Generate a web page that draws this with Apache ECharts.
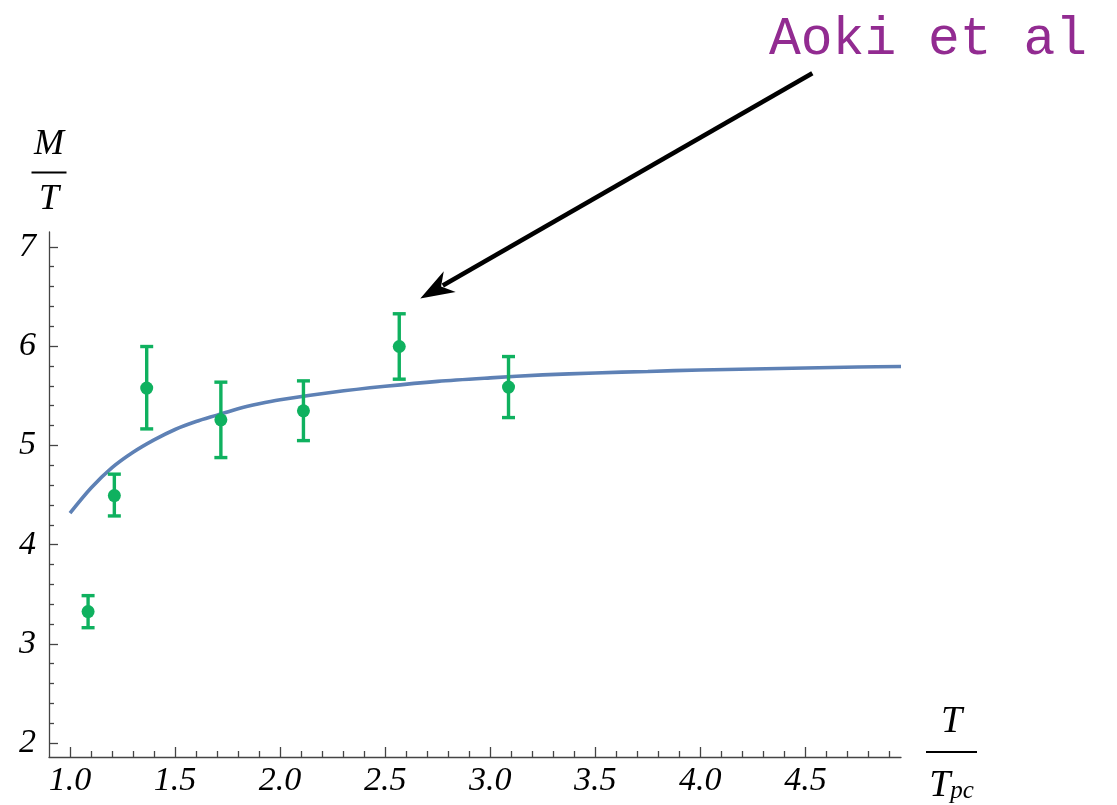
<!DOCTYPE html>
<html><head><meta charset="utf-8">
<script src="https://cdn.jsdelivr.net/npm/echarts@6/dist/echarts.min.js"></script>
<style>html,body{margin:0;padding:0;background:#fff}#c{width:1117px;height:805px}</style>
</head><body><div id="c"></div>
<script>
// Data points (T/Tpc, M/T) with error bars
const pointX  = [1.086, 1.211, 1.365, 1.718, 2.111, 2.567, 3.087];
const pointY  = [3.325, 4.494, 5.577, 5.257, 5.348, 5.996, 5.587];
const errLow  = [3.163, 4.289, 5.166, 4.877, 5.048, 5.667, 5.280];
const errHigh = [3.486, 4.710, 5.996, 5.637, 5.650, 6.326, 5.895];
// Fitted curve
const curveX = [1.0, 1.1, 1.2, 1.3, 1.4, 1.5, 1.6, 1.7, 1.8, 1.9, 2.0, 2.25, 2.5, 2.75, 3.0, 3.25, 3.5, 3.75, 4.0, 4.25, 4.5, 4.75, 4.955];
const curveY = [4.317, 4.57, 4.775, 4.93, 5.055, 5.16, 5.24, 5.305, 5.37, 5.42, 5.46, 5.535, 5.595, 5.645, 5.68, 5.71, 5.73, 5.745, 5.76, 5.77, 5.78, 5.79, 5.795];
// Ticks
const xMajor = [1.0, 1.5, 2.0, 2.5, 3.0, 3.5, 4.0, 4.5];
const xMinor = [1.1,1.2,1.3,1.4,1.6,1.7,1.8,1.9,2.1,2.2,2.3,2.4,2.6,2.7,2.8,2.9,3.1,3.2,3.3,3.4,3.6,3.7,3.8,3.9,4.1,4.2,4.3,4.4,4.6,4.7,4.8,4.9];
const yMajor = [2, 3, 4, 5, 6, 7];
const yMinor = [2.2,2.4,2.6,2.8,3.2,3.4,3.6,3.8,4.2,4.4,4.6,4.8,5.2,5.4,5.6,5.8,6.2,6.4,6.6,6.8];
// Annotation
const annotationText = 'Aoki et al';
const arrowFrom = [4.533, 8.75];
const arrowTo = [2.667, 6.48];

const green = '#0fb15f';
const blue = '#5e81b5';
const axisColor = '#444';
const serif = "'Liberation Serif', 'DejaVu Serif', serif";

const X = [0.9, 4.955], Y = [1.86, 7.15];
const gridBox = {left: 49, right: 216, top: 232, bottom: 48, containLabel: false, outerBoundsMode: 'none'};

const labelStyle = {fontFamily: serif, fontStyle: 'italic', fontSize: 34, color: '#000'};
const fracN = (fs, lh) => ({fontFamily: serif, fontStyle: 'italic', fontSize: fs, lineHeight: lh, color: '#000', align: 'center'});

const chart = echarts.init(document.getElementById('c'), null, {renderer: 'canvas'});
const option = {
  animation: false,
  backgroundColor: '#fff',
  grid: [Object.assign({}, gridBox), Object.assign({}, gridBox)],
  xAxis: [{
    type: 'value', gridIndex: 0, min: X[0], max: X[1],
    axisLine: {show: true, onZero: false, lineStyle: {color: axisColor, width: 1.3}},
    axisTick: {show: true, inside: true, length: 10, customValues: xMajor, lineStyle: {color: axisColor, width: 1.3}},
    axisLabel: Object.assign({customValues: xMajor, margin: 7, formatter: v => v.toFixed(1)}, labelStyle),
    splitLine: {show: false},
    name: '{n|T}\n{b|}\n{d|T}{s|pc}',
    nameLocation: 'end', nameGap: 25,
    nameTextStyle: {rich: {
      n: fracN(38, 44),
      b: {width: 51, height: 2, lineHeight: 15, backgroundColor: '#000', align: 'center'},
      d: fracN(38, 54),
      s: {fontFamily: serif, fontStyle: 'italic', fontSize: 25, lineHeight: 54, color: '#000', align: 'center', padding: [9, 0, 0, 0]}
    }}
  }, {
    type: 'value', gridIndex: 1, min: X[0], max: X[1],
    axisLine: {show: false, onZero: false},
    axisTick: {show: true, inside: true, length: 6, customValues: xMinor, lineStyle: {color: axisColor, width: 1.3}},
    axisLabel: {show: false}, splitLine: {show: false}
  }],
  yAxis: [{
    type: 'value', gridIndex: 0, min: Y[0], max: Y[1],
    axisLine: {show: true, onZero: false, lineStyle: {color: axisColor, width: 1.3}},
    axisTick: {show: true, inside: true, length: 9, customValues: yMajor, lineStyle: {color: axisColor, width: 1.3}},
    axisLabel: Object.assign({customValues: yMajor, margin: 13, formatter: v => String(v)}, labelStyle),
    splitLine: {show: false},
    name: '{n|M}\n{b|}\n{n|T}',
    nameLocation: 'end', nameGap: 12,
    nameTextStyle: {rich: {
      n: fracN(36, 40),
      b: {width: 35, height: 2, lineHeight: 15, backgroundColor: '#000', align: 'center'}
    }}
  }, {
    type: 'value', gridIndex: 1, min: Y[0], max: Y[1],
    axisLine: {show: false, onZero: false},
    axisTick: {show: true, inside: true, length: 5, customValues: yMinor, lineStyle: {color: axisColor, width: 1.3}},
    axisLabel: {show: false}, splitLine: {show: false}
  }],
  series: [{
    type: 'line', xAxisIndex: 0, yAxisIndex: 0,
    data: curveX.map((x, i) => [x, curveY[i]]),
    smooth: 0.3, showSymbol: false, symbol: 'none',
    lineStyle: {color: blue, width: 3.6}, z: 2
  }, {
    type: 'custom', xAxisIndex: 0, yAxisIndex: 0,
    data: pointX.map((x, i) => [x, errLow[i], errHigh[i]]),
    renderItem: function (params, api) {
      const x = api.value(0);
      const p1 = api.coord([x, api.value(1)]);
      const p2 = api.coord([x, api.value(2)]);
      const w = 6.5;
      const st = {stroke: green, lineWidth: 3.4};
      return {type: 'group', children: [
        {type: 'line', shape: {x1: p1[0], y1: p1[1], x2: p2[0], y2: p2[1]}, style: st},
        {type: 'line', shape: {x1: p1[0] - w, y1: p1[1], x2: p1[0] + w, y2: p1[1]}, style: st},
        {type: 'line', shape: {x1: p2[0] - w, y1: p2[1], x2: p2[0] + w, y2: p2[1]}, style: st}
      ]};
    },
    z: 3
  }, {
    type: 'scatter', xAxisIndex: 0, yAxisIndex: 0,
    data: pointX.map((x, i) => [x, pointY[i]]),
    symbol: 'circle', symbolSize: 13,
    itemStyle: {color: green, opacity: 1}, z: 4
  }]
};
chart.setOption(option);

// Arrow and annotation text
const a = chart.convertToPixel({gridIndex: 0}, arrowFrom);
const b = chart.convertToPixel({gridIndex: 0}, arrowTo);
const dx = b[0] - a[0], dy = b[1] - a[1];
const len = Math.sqrt(dx * dx + dy * dy);
const ux = dx / len, uy = dy / len;
const headLen = 30, headHalf = 12;
const bx = b[0] - ux * headLen, by = b[1] - uy * headLen;
const nx = -uy, ny = ux;
chart.setOption({
  graphic: [
    {type: 'line', shape: {x1: a[0], y1: a[1], x2: bx + ux * 4, y2: by + uy * 4}, style: {stroke: '#000', lineWidth: 4.5}, z: 10},
    {type: 'polygon', shape: {points: [[b[0], b[1]], [bx + nx * headHalf - ux * 4, by + ny * headHalf - uy * 4], [bx + ux * 6, by + uy * 6], [bx - nx * headHalf - ux * 4, by - ny * headHalf - uy * 4]]}, style: {fill: '#000'}, z: 10},
    {type: 'text', x: 769, y: 40, style: {text: annotationText, font: "53px 'Liberation Mono', 'DejaVu Sans Mono', monospace", fill: '#922b91', verticalAlign: 'middle', align: 'left'}, z: 10}
  ]
});
</script>
</body></html>
